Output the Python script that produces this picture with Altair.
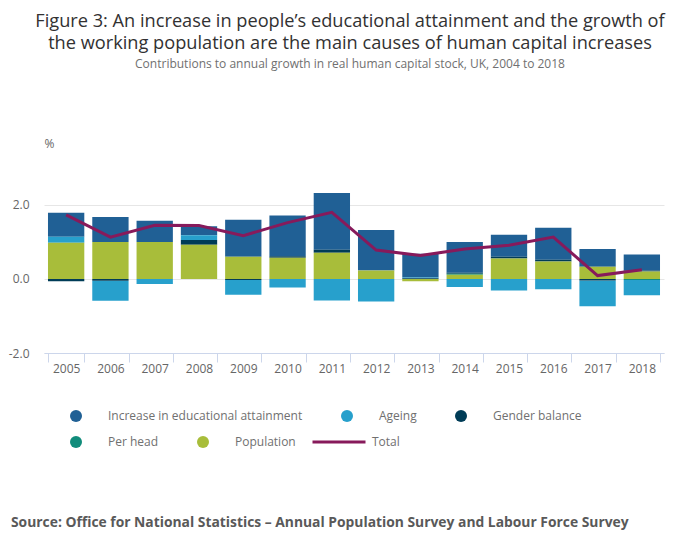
import altair as alt
import pandas as pd

years = [str(y) for y in range(2005, 2019)]
education = [0.65, 0.67, 0.57, 0.24, 1.00, 1.10, 1.53, 1.09, 0.64, 0.83, 0.59, 0.86, 0.48, 0.43]
ageing = [0.16, -0.54, -0.14, 0.13, -0.40, -0.23, -0.58, -0.61, 0.02, -0.22, -0.31, -0.28, -0.70, -0.41]
gender_balance = [-0.06, -0.05, 0.00, 0.13, -0.03, 0.04, 0.08, 0.00, 0.02, 0.03, 0.05, 0.05, -0.04, 0.03]
per_head = [0.00, 0.00, 0.00, 0.00, 0.00, 0.00, 0.00, 0.00, 0.00, 0.03, 0.00, 0.00, 0.00, -0.03]
population = [0.98, 1.00, 1.00, 0.92, 0.60, 0.57, 0.71, 0.23, -0.06, 0.11, 0.55, 0.47, 0.33, 0.20]
total = [1.73, 1.13, 1.45, 1.44, 1.17, 1.52, 1.80, 0.78, 0.63, 0.81, 0.91, 1.13, 0.09, 0.25]

row1_names = ["Increase in educational attainment", "Ageing", "Gender balance"]
row1_colors = ["#206095", "#27a0cc", "#003c57"]
row2_names = ["Per head", "Population"]
row2_colors = ["#118c7b", "#a8bd3a"]
total_name = ["Total"]
total_color = ["#871a5b"]
stack_rank = {"Population": 0, "Per head": 1, "Gender balance": 2, "Ageing": 3,
              "Increase in educational attainment": 4}

rows = []
for name, vals in [("Increase in educational attainment", education), ("Ageing", ageing),
                   ("Gender balance", gender_balance), ("Per head", per_head),
                   ("Population", population)]:
    for y, v in zip(years, vals):
        rows.append({"year": y, "series": name, "value": v, "rank": stack_rank[name],
                     "row": 1 if name in row1_names else 2})
bars_df = pd.DataFrame(rows)
total_df = pd.DataFrame({"year": years, "kind": total_name * len(years), "value": total})

FONT = "Open Sans"
LABEL_COLOR = "#707070"

x_enc = alt.X("year:N", title=None,
              scale=alt.Scale(paddingInner=0.18, paddingOuter=0.09),
              axis=alt.Axis(labelAngle=0, tickBand="extent", domainColor="#ccd6eb",
                            tickColor="#ccd6eb", tickSize=9, labelPadding=1, grid=False,
                            labelFont=FONT, labelFontSize=12, labelColor="#666666"))

y_axis = alt.Axis(values=[-2, 0, 2],
                  labelExpr="datum.value < 0 ? '-' + format(-datum.value, '.1f') : format(datum.value, '.1f')",
                  title="%", titleAngle=0, titleX=0,
                  titleY=-10, titleAlign="left", titleBaseline="middle", titleFont=FONT,
                  titleFontSize=12, titleFontWeight="normal", titleColor="#666666",
                  domain=False, ticks=False, labelPadding=15, gridColor="#e6e6e6",
                  labelFont=FONT, labelFontSize=12, labelColor="#666666")
y_scale = alt.Scale(domain=[-2, 3.4], nice=False)

base = alt.Chart(bars_df).transform_stack(
    stack="value", groupby=["year"], as_=["v0", "v1"],
    sort=[alt.SortField("rank", order="ascending")], offset="zero",
)

bars_row1 = base.transform_filter("datum.row == 1").mark_bar().encode(
    x=x_enc,
    y=alt.Y("v0:Q", scale=y_scale, axis=y_axis),
    y2="v1:Q",
    color=alt.Color("series:N", scale=alt.Scale(domain=row1_names, range=row1_colors),
                    legend=alt.Legend(title=None, orient="none", legendX=25, legendY=256,
                                      direction="horizontal", columns=3,
                                      columnPadding=37, symbolSize=144,
                                      symbolType="circle", labelOffset=25, padding=0,
                                      labelLimit=400, labelFont=FONT, labelFontSize=12,
                                      labelColor=LABEL_COLOR)),
)

bars_row2 = base.transform_filter("datum.row == 2").transform_calculate(
    part="datum.series").mark_bar().encode(
    x=x_enc,
    y=alt.Y("v0:Q", scale=y_scale, axis=y_axis),
    y2="v1:Q",
    fill=alt.Fill("part:N", scale=alt.Scale(domain=row2_names, range=row2_colors),
                  legend=alt.Legend(title=None, orient="none", legendX=25, legendY=282,
                                    direction="horizontal", columns=2,
                                    columnPadding=37, symbolSize=144,
                                    symbolType="circle", labelOffset=25, padding=0,
                                    labelLimit=400, labelFont=FONT, labelFontSize=12,
                                    labelColor=LABEL_COLOR)),
)

line = alt.Chart(total_df).mark_line(strokeWidth=3).encode(
    x=x_enc,
    y=alt.Y("value:Q", scale=y_scale, axis=y_axis),
    stroke=alt.Stroke("kind:N", scale=alt.Scale(domain=total_name, range=total_color),
                      legend=alt.Legend(title=None, orient="none", legendX=267, legendY=261,
                                        symbolType="stroke", symbolSize=2809,
                                        symbolStrokeWidth=3, labelOffset=5, padding=0,
                                        labelFont=FONT, labelFontSize=12,
                                        labelColor=LABEL_COLOR)),
)

source = alt.Chart(pd.DataFrame({"t": ["Source: Office for National Statistics \u2013 Annual Population Survey and Labour Force Survey"]})).mark_text(
    align="left", baseline="alphabetic", font=FONT, fontSize=13.85, fontWeight="bold", color="#595959"
).encode(x=alt.value(-33), y=alt.value(374), text="t:N")

chart = alt.layer(bars_row1, bars_row2, line, source).properties(
    width=620, height=200,
    title=alt.Title(
        text=["Figure 3: An increase in people\u2019s educational attainment and the growth of",
              "the working population are the main causes of human capital increases"],
        subtitle="Contributions to annual growth in real human capital stock, UK, 2004 to 2018",
        font=FONT, fontSize=18.2, fontWeight="normal", color="#323132", lineHeight=22,
        subtitleFont=FONT, subtitleFontSize=12, subtitleColor="#707070", subtitlePadding=6,
        anchor="middle", dx=-4, offset=66,
    ),
    autosize=alt.AutoSizeParams(type="none"),
    padding={"left": 36, "top": 145, "right": 28, "bottom": 188},
).resolve_legend(color="independent", fill="independent", stroke="independent").configure(
    background="white").configure_view(stroke=None)

chart.save("out.html", embed_options={"renderer": "svg", "actions": False})
